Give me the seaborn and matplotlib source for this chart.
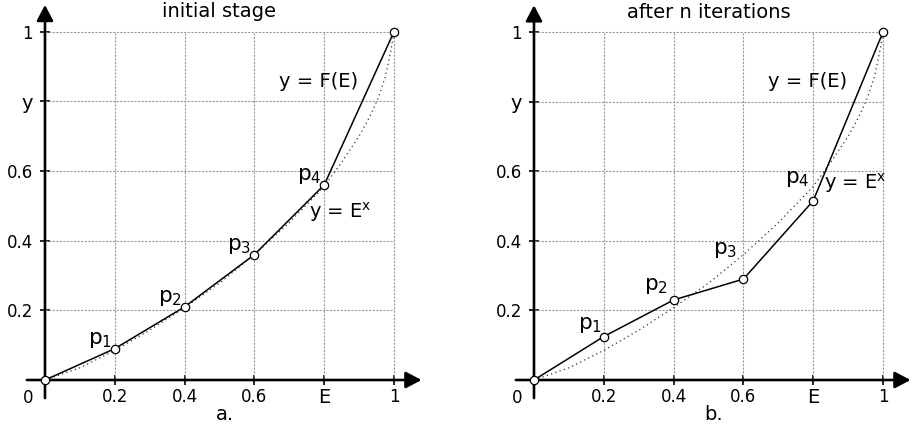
import matplotlib
matplotlib.use("Agg")
import matplotlib.pyplot as plt
import seaborn as sns

sns.set_theme(style="white")
plt.rcParams["font.family"] = ["DejaVu Sans"]
plt.rcParams["mathtext.default"] = "regular"
plt.rcParams["text.color"] = "black"
plt.rcParams["xtick.color"] = "black"
plt.rcParams["ytick.color"] = "black"

# Sample positions of the approximation nodes
node_x = [0.0, 0.2, 0.4, 0.6, 0.8, 1.0]
# F(E) at the nodes, before and after the iterations
initial_y = [0.0, 0.09, 0.21, 0.36, 0.56, 1.0]
iterated_y = [0.0, 0.125, 0.23, 0.29, 0.515, 1.0]

# Reference curve y = E^x
curve_x = [0.0, 0.1, 0.2, 0.3, 0.4, 0.5, 0.6, 0.7, 0.8, 0.85, 0.9, 0.93, 0.955, 0.975, 0.99, 1.0]
curve_y = [0.0, 0.035, 0.085, 0.143, 0.208, 0.278, 0.36, 0.452, 0.556, 0.625, 0.70, 0.755, 0.81, 0.87, 0.94, 1.0]

tick_vals = [0.2, 0.4, 0.6, 0.8, 1.0]
x_tick_labels = ["0.2", "0.4", "0.6", "E", "1"]
y_tick_labels = ["0.2", "0.4", "0.6", "y", "1"]

panel_titles = ["initial stage", "after n iterations"]
panel_tags = ["a.", "b."]
node_labels = ["1", "2", "3", "4"]

fig = plt.figure(figsize=(9.14, 4.32), dpi=100)
ax_a = fig.add_axes([0.0, 0.0, 0.5, 1.0])
ax_b = fig.add_axes([0.5, 0.0, 0.5, 1.0])
ax_a.set_xlim(-0.1289, 1.1805)
ax_a.set_ylim(-0.1493, 1.091)
ax_b.set_xlim(-0.2206, 1.0888)
ax_b.set_ylim(-0.1494, 1.092)


def draw_frame(ax):
    ax.set_facecolor("white")
    ax.grid(False)
    for name in ("top", "right"):
        ax.spines[name].set_visible(False)
    for name in ("left", "bottom"):
        ax.spines[name].set_position(("data", 0))
        ax.spines[name].set_visible(False)
    # dashed grid bounded by the unit square
    grid_style = dict(colors="#9a9a9a", linewidth=0.8, linestyles=(0, (2.0, 1.2)), zorder=1)
    ax.vlines(tick_vals, 0, 1, **grid_style)
    ax.hlines(tick_vals, 0, 1, **grid_style)
    # arrowed axes
    arrow = dict(arrowstyle="-|>,head_length=0.95,head_width=0.5", mutation_scale=10,
                 lw=1.9, color="black", shrinkA=0, shrinkB=0)
    ax.annotate("", xy=(1.079, 0), xytext=(-0.052, 0), arrowprops=arrow, zorder=3,
                annotation_clip=False)
    ax.annotate("", xy=(0, 1.077), xytext=(0, -0.052), arrowprops=arrow, zorder=3,
                annotation_clip=False)
    ax.set_xticks(tick_vals)
    ax.set_xticklabels(x_tick_labels)
    ax.set_yticks(tick_vals)
    ax.set_yticklabels(y_tick_labels)
    ax.tick_params(axis="both", direction="inout", length=7.2, width=1.2,
                   colors="black", labelcolor="black", labelsize=12, bottom=True, left=True)
    ax.tick_params(axis="x", pad=2.5)
    ax.tick_params(axis="y", pad=5)
    ax.get_xticklabels()[3].set_fontsize(14)
    ax.get_yticklabels()[3].set_fontsize(14)
    ax.text(-0.048, -0.052, "0", ha="center", va="center", fontsize=12, color="black")


def draw_curves(ax, ys):
    sns.lineplot(x=curve_x, y=curve_y, ax=ax, color="#333333", linewidth=0.9,
                 linestyle=(0, (1, 2.6)), zorder=4, estimator=None)
    sns.lineplot(x=node_x, y=ys, ax=ax, color="black", linewidth=1.1, zorder=5,
                 estimator=None, marker="o", markersize=6, markerfacecolor="white",
                 markeredgecolor="black", markeredgewidth=0.9)


for ax, ys, title, tag in [(ax_a, initial_y, panel_titles[0], panel_tags[0]),
                           (ax_b, iterated_y, panel_titles[1], panel_tags[1])]:
    draw_frame(ax)
    draw_curves(ax, ys)
    ax.text(0.5, 1.057, title, ha="center", va="center", fontsize=14)
    ax.text(0.515, -0.1, tag, ha="center", va="center", fontsize=14)
    ax.text(0.785, 0.857, "y = F(E)", ha="center", va="center", fontsize=14)

# node labels, panel a: just up-left of each node
for x, y, n in zip(node_x[1:5], initial_y[1:5], node_labels):
    ax_a.annotate("p$_{%s}$" % n, xy=(x, y), xytext=(-2, -1), textcoords="offset points",
                  ha="right", va="bottom", fontsize=15.5)
ax_a.text(0.845, 0.482, "y = E$^{x}$", ha="center", va="center", fontsize=14)

# node labels, panel b
b_label_pos = [(0.195, 0.13), (0.385, 0.24), (0.582, 0.345), (0.788, 0.548)]
for (x, y), n in zip(b_label_pos, node_labels):
    ax_b.text(x, y, "p$_{%s}$" % n, ha="right", va="bottom", fontsize=15.5)
ax_b.text(0.92, 0.565, "y = E$^{x}$", ha="center", va="center", fontsize=14)

fig.savefig("out.png", dpi=100)
